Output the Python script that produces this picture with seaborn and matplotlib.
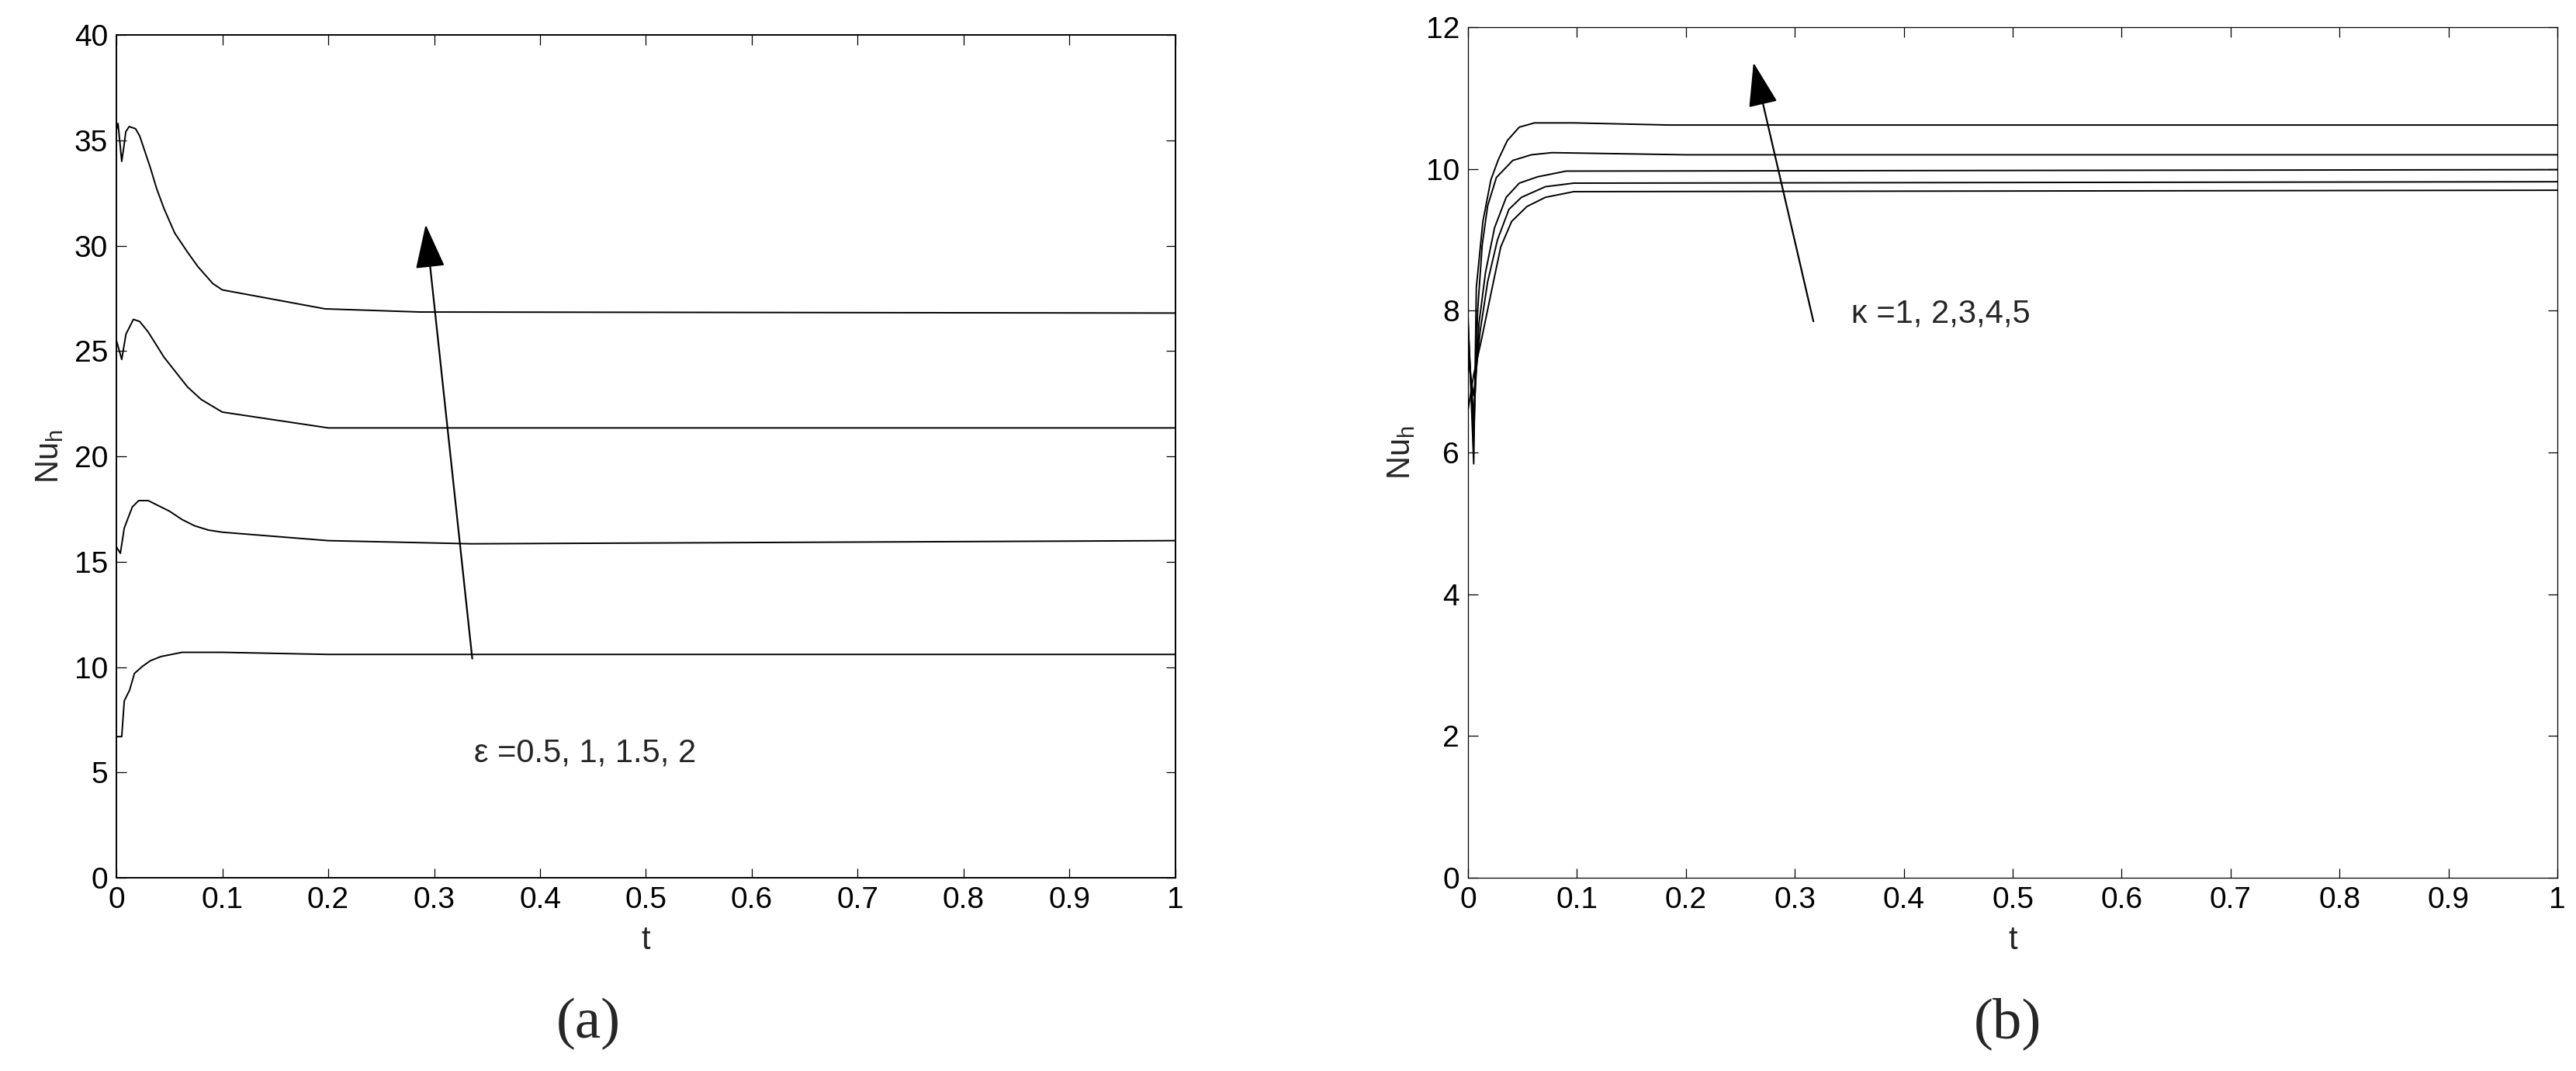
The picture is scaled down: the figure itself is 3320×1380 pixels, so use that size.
import numpy as np
import pandas as pd
import matplotlib
matplotlib.use("Agg")
import matplotlib.pyplot as plt
import seaborn as sns

# ---- panel (a): Nu_h vs t for eps = 0.5, 1, 1.5, 2 ----
t_eps2 = [0, 0.0015, 0.005, 0.0073, 0.0088, 0.012, 0.018, 0.022, 0.027, 0.032, 0.038, 0.045, 0.055,
          0.067, 0.077, 0.091, 0.10, 0.197, 0.287, 1.0]
nu_eps2 = [35.5, 35.8, 34.0, 34.8, 35.4, 35.65, 35.55, 35.2, 34.45, 33.7, 32.7, 31.75, 30.6,
           29.7, 29.0, 28.2, 27.9, 27.0, 26.85, 26.8]

t_eps15 = [0, 0.005, 0.009, 0.016, 0.022, 0.030, 0.045, 0.067, 0.080, 0.090, 0.10, 0.20, 1.0]
nu_eps15 = [25.5, 24.6, 25.8, 26.5, 26.4, 25.9, 24.7, 23.3, 22.7, 22.4, 22.1, 21.35, 21.35]

t_eps1 = [0, 0.0037, 0.0074, 0.015, 0.021, 0.030, 0.040, 0.050, 0.062, 0.074, 0.087, 0.10, 0.20, 0.335, 1.0]
nu_eps1 = [15.7, 15.4, 16.6, 17.6, 17.9, 17.9, 17.65, 17.4, 17.0, 16.7, 16.5, 16.4, 16.0, 15.85, 16.0]

t_eps05 = [0, 0.005, 0.0074, 0.0124, 0.017, 0.025, 0.032, 0.042, 0.062, 0.10, 0.20, 1.0]
nu_eps05 = [6.7, 6.7, 8.4, 8.9, 9.7, 10.05, 10.3, 10.5, 10.7, 10.7, 10.6, 10.6]

# ---- panel (b): Nu_h vs t for kappa = 1..5 ----
t_k5 = [0, 0.0052, 0.0076, 0.0136, 0.021, 0.028, 0.036, 0.047, 0.061, 0.097, 0.185, 1.0]
nu_k5 = [7.9, 5.84, 8.33, 9.26, 9.85, 10.14, 10.4, 10.59, 10.65, 10.65, 10.62, 10.62]

t_k4 = [0, 0.0052, 0.0088, 0.013, 0.018, 0.026, 0.041, 0.058, 0.077, 0.20, 1.0]
nu_k4 = [7.8, 6.2, 8.0, 8.93, 9.48, 9.88, 10.12, 10.2, 10.23, 10.2, 10.2]

t_k3 = [0, 0.0052, 0.0100, 0.016, 0.0243, 0.035, 0.047, 0.064, 0.090, 1.0]
nu_k3 = [7.6, 6.5, 7.82, 8.54, 9.17, 9.6, 9.8, 9.89, 9.97, 9.99]

t_k2 = [0, 0.0052, 0.011, 0.018, 0.027, 0.0375, 0.049, 0.071, 0.097, 1.0]
nu_k2 = [7.3, 6.8, 7.7, 8.41, 9.0, 9.43, 9.6, 9.75, 9.8, 9.82]

t_k1 = [0, 0.0052, 0.012, 0.021, 0.030, 0.040, 0.054, 0.071, 0.097, 1.0]
nu_k1 = [6.6, 7.1, 7.57, 8.24, 8.9, 9.26, 9.47, 9.6, 9.68, 9.70]

curves_a = [(t_eps05, nu_eps05), (t_eps1, nu_eps1), (t_eps15, nu_eps15), (t_eps2, nu_eps2)]
curves_b = [(t_k1, nu_k1), (t_k2, nu_k2), (t_k3, nu_k3), (t_k4, nu_k4), (t_k5, nu_k5)]

x_ticks = [0, 0.1, 0.2, 0.3, 0.4, 0.5, 0.6, 0.7, 0.8, 0.9, 1]
x_labels = ["0", "0.1", "0.2", "0.3", "0.4", "0.5", "0.6", "0.7", "0.8", "0.9", "1"]
y_ticks_a = [0, 5, 10, 15, 20, 25, 30, 35, 40]
y_ticks_b = [0, 2, 4, 6, 8, 10, 12]

sns.set_style("ticks")
plt.rcParams['font.family'] = ['Liberation Sans', 'DejaVu Sans']
plt.rcParams['mathtext.fontset'] = 'custom'
plt.rcParams['mathtext.rm'] = 'Liberation Sans'
plt.rcParams['mathtext.it'] = 'Liberation Sans'

fig = plt.figure(figsize=(33.2, 13.8), dpi=100)
ax_a = fig.add_axes([0.0452, 0.1804, 0.4111, 0.787])
ax_b = fig.add_axes([0.5699, 0.1804, 0.4229, 0.7942])


def draw_panel(ax, curves, yticks, ylim, spine_w):
    for t, v in curves:
        df = pd.DataFrame({"t": t, "Nu": v})
        sns.lineplot(data=df, x="t", y="Nu", ax=ax, color="black", lw=1.4,
                     estimator=None, sort=False)
    ax.set_xlim(0, 1)
    ax.set_ylim(*ylim)
    ax.set_xticks(x_ticks)
    ax.set_xticklabels(x_labels)
    ax.set_yticks(yticks)
    ax.tick_params(direction="in", length=9, width=0.9, labelsize=28,
                   top=True, right=True, pad=8, colors="black")
    for s in ax.spines.values():
        s.set_visible(True)
        s.set_linewidth(spine_w)
        s.set_color("black")
    ax.set_xlabel("t", fontsize=30, labelpad=10)
    ax.set_ylabel(r"Nu$_\mathregular{h}$", fontsize=30, labelpad=8)


draw_panel(ax_a, curves_a, y_ticks_a, (0, 40), 1.4)
draw_panel(ax_b, curves_b, y_ticks_b, (0, 12), 0.9)

arrow_kw = dict(arrowstyle="-|>,head_length=0.9,head_width=0.3", color="black",
                lw=1.6, mutation_scale=40, shrinkA=0, shrinkB=0)
ax_a.annotate("", xy=(0.292, 31.0), xytext=(0.336, 10.4), arrowprops=arrow_kw)
ax_a.text(0.338, 5.9, "\u03b5 =0.5, 1, 1.5, 2", fontsize=30, va="center", ha="left")

ax_b.annotate("", xy=(0.262, 11.5), xytext=(0.317, 7.85), arrowprops=arrow_kw)
ax_b.text(0.352, 7.95, "\u03ba =1, 2,3,4,5", fontsize=30, va="center", ha="left")

fig.text(758 / 3320, 1 - 1319 / 1380, "(a)", fontsize=54, ha="center", va="center",
         family=["Liberation Serif", "DejaVu Serif"])
fig.text(2587 / 3320, 1 - 1319 / 1380, "(b)", fontsize=54, ha="center", va="center",
         family=["Liberation Serif", "DejaVu Serif"])

fig.savefig("out.png", dpi=100, facecolor="white")
